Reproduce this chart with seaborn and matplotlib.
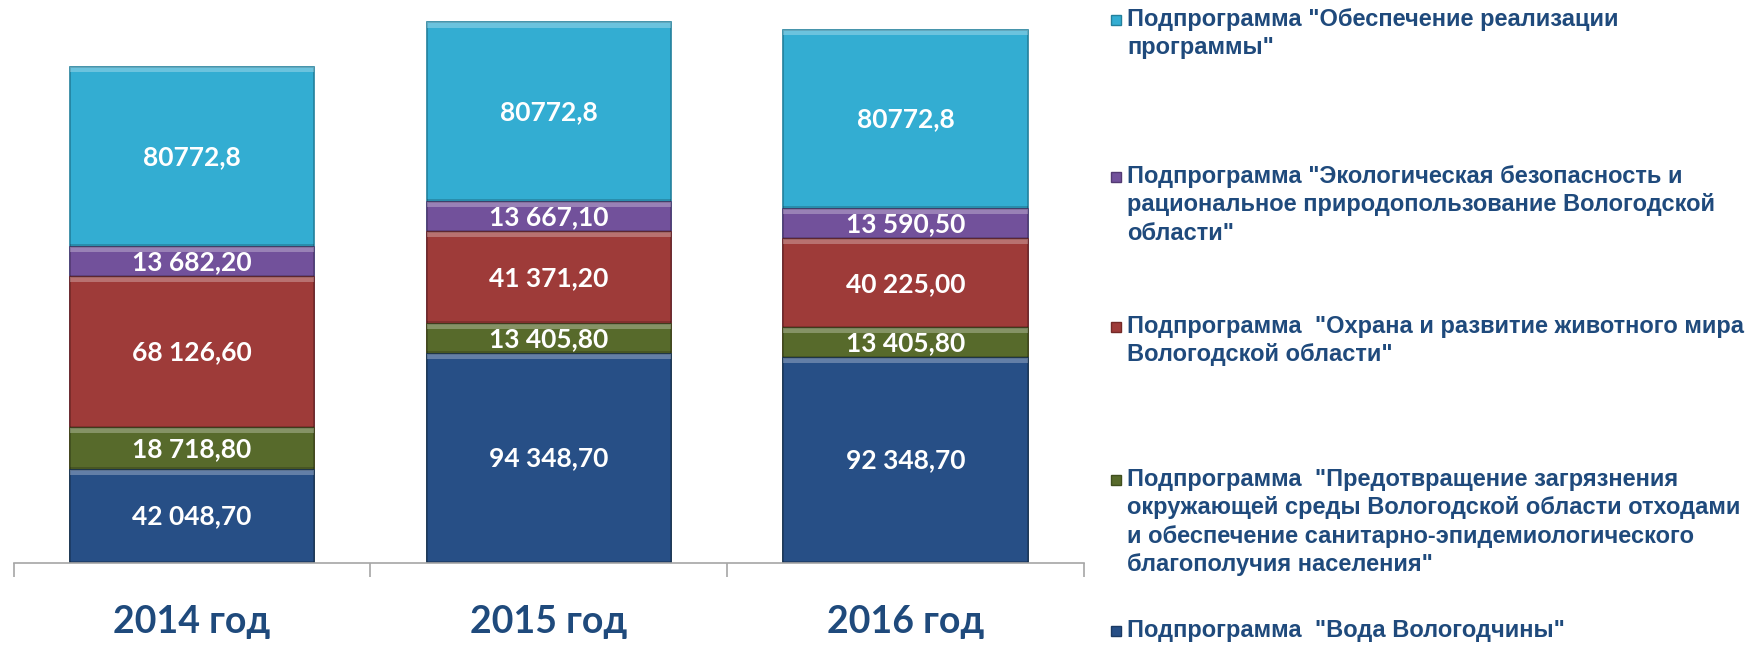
import matplotlib
matplotlib.use('Agg')
import matplotlib.pyplot as plt
import numpy as np
import pandas as pd
import seaborn as sns

# ------------ data --------------
years = ['2014 год', '2015 год', '2016 год']
series_names = [
    'Подпрограмма  "Вода Вологодчины"',
    'Подпрограмма  "Предотвращение загрязнения\nокружающей среды Вологодской области отходами\nи обеспечение санитарно-эпидемиологического\nблагополучия населения"',
    'Подпрограмма  "Охрана и развитие животного мира\nВологодской области"',
    'Подпрограмма "Экологическая безопасность и\nрациональное природопользование Вологодской\nобласти"',
    'Подпрограмма "Обеспечение реализации\nпрограммы"',
]
voda = [42048.70, 94348.70, 92348.70]
zagryaznenie = [18718.80, 13405.80, 13405.80]
zhivotny_mir = [68126.60, 41371.20, 40225.00]
ekologiya = [13682.20, 13667.10, 13590.50]
obespechenie = [80772.8, 80772.8, 80772.8]

colors = ['#274F86', '#576A2B', '#9E3B39', '#72519B', '#33ADD2']
edge_colors = ['#1B3A63', '#3F4E1E', '#742927', '#533A73', '#23809C']
TEXT_BLUE = '#1F4A7C'
BAR_W = 0.685


def fmt(v, short):
    if short:
        return f'{v:.1f}'.replace('.', ',')
    s = f'{v:,.2f}'
    return s.replace(',', ' ').replace('.', ',')


values = np.array([voda, zagryaznenie, zhivotny_mir, ekologiya, obespechenie])
cum = values.cumsum(axis=0)
x = np.arange(len(years))

sns.set_style('white')
plt.rcParams['font.family'] = ['Lato', 'DejaVu Sans']

fig = plt.figure(figsize=(17.58, 6.49), dpi=100)
ax = fig.add_axes([13.5 / 1758, 86 / 649, (1084 - 13.5) / 1758, 563 / 649])

# stacked bars: draw cumulative totals from the top series down
for i in range(len(values) - 1, -1, -1):
    df = pd.DataFrame({'year': years, 'total': cum[i]})
    sns.barplot(data=df, x='year', y='total', color=colors[i], saturation=1,
                width=BAR_W, edgecolor=edge_colors[i], linewidth=1.2, ax=ax)

# bevel look: light band at top of each segment, dark band at bottom
for i in range(len(values)):
    ax.bar(x, 2300, bottom=cum[i] - 2300, width=BAR_W, color='white', alpha=0.28, linewidth=0)
    ax.bar(x, 1100, bottom=cum[i] - values[i], width=BAR_W, color='black', alpha=0.18, linewidth=0)

# value labels in the middle of each segment
for i in range(len(values)):
    for j in range(len(years)):
        mid = cum[i][j] - values[i][j] / 2
        ax.text(j, mid, fmt(values[i][j], i == len(values) - 1), ha='center', va='center',
                color='white', fontsize=19, fontweight='bold')

ax.set_xlim(-0.5, 2.5)
ax.set_ylim(0, 253700)
ax.set_xlabel('')
ax.set_ylabel('')
ax.set_yticks([])
for side in ['left', 'right', 'top']:
    ax.spines[side].set_visible(False)
ax.spines['bottom'].set_color('#A6A6A6')
ax.spines['bottom'].set_linewidth(1.2)

ax.set_xticks([-0.5, 0.5, 1.5, 2.5])
ax.set_xticklabels([])
ax.tick_params(axis='x', which='major', length=10, width=1.2, color='#A6A6A6', direction='out', bottom=True)
ax.set_xticks([0, 1, 2], minor=True)
ax.set_xticklabels(years, minor=True, fontsize=27, fontweight='bold', color=TEXT_BLUE)
ax.tick_params(axis='x', which='minor', length=0, pad=30)

# legend on the right, entries placed as in the original layout
legend_tops = [20, 177, 327, 480, 631]
legend_order = [4, 3, 2, 1, 0]
for top, i in zip(legend_tops, legend_order):
    fig.text(1127 / 1758, 1 - (top - 12) / 649, series_names[i], ha='left', va='top',
             fontsize=17, fontweight='bold', color=TEXT_BLUE, linespacing=1.3,
             family=['Liberation Sans Narrow', 'Liberation Sans', 'DejaVu Sans'])
    fig.add_artist(plt.Line2D([1116 / 1758], [1 - top / 649], marker='s', markersize=7.5,
                              color=colors[i], markeredgecolor=edge_colors[i],
                              transform=fig.transFigure))

fig.savefig('out.png', dpi=100)
